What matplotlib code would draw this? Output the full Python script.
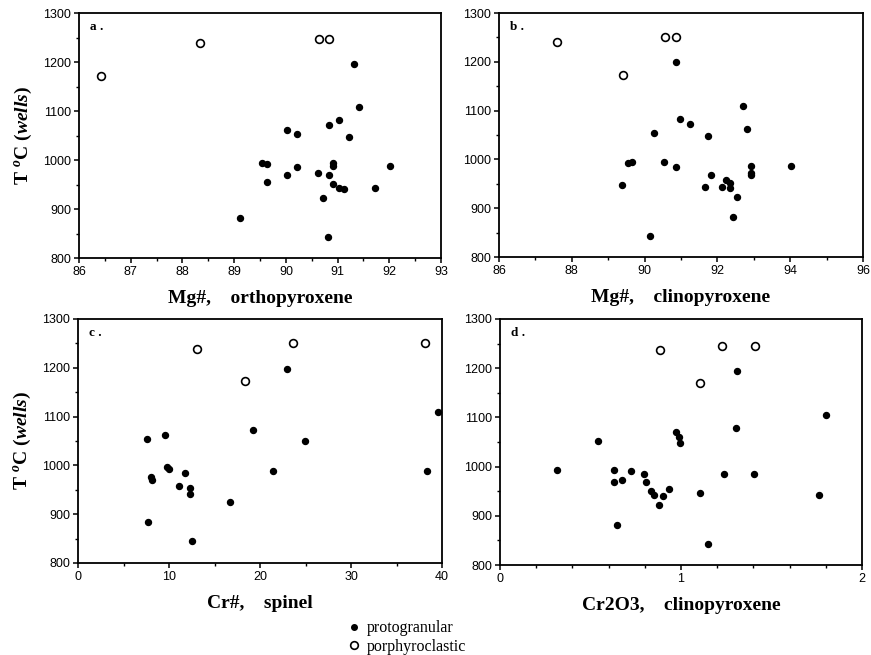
import matplotlib
matplotlib.use('Agg')
import matplotlib.pyplot as plt
from matplotlib.ticker import MultipleLocator
from matplotlib.lines import Line2D

plt.rcParams['mathtext.fontset'] = 'custom'
plt.rcParams['mathtext.rm'] = 'Liberation Serif:bold'
plt.rcParams['mathtext.bf'] = 'Liberation Serif:bold'
plt.rcParams['mathtext.it'] = 'Liberation Serif:bold:italic'

# a. Mg# orthopyroxene
opx_proto_x = [91.32, 91.42, 91.03, 90.83, 90.03, 90.22, 91.22, 89.53, 89.64, 89.64, 90.03, 90.22,
               90.62, 90.83, 90.92, 90.92, 90.92, 91.02, 91.12, 91.72, 92.02, 90.72, 89.12, 90.81]
opx_proto_t = [1197, 1108, 1082, 1072, 1062, 1054, 1048, 995, 993, 956, 969, 985,
               974, 969, 994, 987, 951, 944, 941, 943, 987, 922, 881, 842]
opx_porph_x = [86.42, 88.34, 90.64, 90.84]
opx_porph_t = [1172, 1238, 1247, 1247]

# b. Mg# clinopyroxene
cpx_proto_x = [90.87, 92.71, 92.82, 90.96, 91.24, 90.27, 91.75, 89.54, 89.66, 90.54, 90.86, 89.37,
               91.82, 91.66, 92.13, 92.23, 92.34, 92.35, 92.54, 92.44, 92.92, 92.92, 92.92, 94.02, 90.16]
cpx_proto_t = [1200, 1109, 1062, 1083, 1073, 1055, 1049, 993, 995, 995, 985, 948,
               969, 943, 943, 957, 952, 941, 922, 882, 987, 973, 969, 987, 844]
cpx_porph_x = [87.59, 89.40, 90.56, 90.87]
cpx_porph_t = [1241, 1174, 1251, 1251]

# c. Cr# spinel
sp_proto_x = [23.0, 39.6, 19.2, 24.9, 7.6, 9.6, 9.8, 10.0, 11.8, 21.4, 38.4, 8.0,
              8.1, 11.1, 12.3, 12.25, 16.7, 7.7, 12.5]
sp_proto_t = [1198, 1109, 1073, 1049, 1055, 1063, 996, 993, 985, 988, 988, 976,
              970, 957, 953, 942, 924, 883, 845]
sp_porph_x = [13.1, 18.3, 23.6, 38.1]
sp_porph_t = [1239, 1173, 1250, 1250]

# d. Cr2O3 clinopyroxene
cr_proto_x = [1.307, 1.803, 1.305, 0.544, 0.975, 0.988, 0.995, 0.313, 0.632, 0.632, 0.675, 0.724,
              0.794, 0.807, 0.833, 0.850, 0.876, 0.903, 0.933, 0.649, 1.106, 1.239, 1.403, 1.764, 1.147]
cr_proto_t = [1194, 1104, 1079, 1053, 1070, 1061, 1047, 994, 994, 968, 973, 991,
              984, 968, 950, 942, 922, 940, 955, 882, 947, 985, 985, 942, 843]
cr_porph_x = [0.887, 1.108, 1.228, 1.408]
cr_porph_t = [1237, 1169, 1245, 1245]

panels = [
    ('a .', r'Mg#,    orthopyroxene', opx_proto_x, opx_proto_t, opx_porph_x, opx_porph_t,
     (86, 93), 1, 0.5, [0.0907, 0.606, 0.4157, 0.374], True),
    ('b .', r'Mg#,    clinopyroxene', cpx_proto_x, cpx_proto_t, cpx_porph_x, cpx_porph_t,
     (86, 96), 2, 1, [0.5729, 0.6076, 0.4179, 0.3725], False),
    ('c .', r'Cr#,    spinel', sp_proto_x, sp_proto_t, sp_porph_x, sp_porph_t,
     (0, 40), 10, 5, [0.0896, 0.1405, 0.4179, 0.3725], True),
    ('d .', r'Cr2O3,    clinopyroxene', cr_proto_x, cr_proto_t, cr_porph_x, cr_porph_t,
     (0, 2), 1, 0.2, [0.574, 0.1374, 0.4156, 0.3756], False),
]

fig = plt.figure(figsize=(8.71, 6.55), dpi=100)

for lab, xlab, px, pt, ox, ot, xlim, xmaj, xmin, pos, ylab in panels:
    ax = fig.add_axes(pos)
    ax.plot(px, pt, 'o', color='black', markersize=4.3, clip_on=False)
    ax.plot(ox, ot, 'o', markerfacecolor='white', markeredgecolor='black',
            markersize=5.6, markeredgewidth=1.2, clip_on=False)
    ax.set_xlim(*xlim)
    ax.set_ylim(800, 1300)
    ax.xaxis.set_major_locator(MultipleLocator(xmaj))
    ax.xaxis.set_minor_locator(MultipleLocator(xmin))
    ax.yaxis.set_major_locator(MultipleLocator(100))
    ax.yaxis.set_minor_locator(MultipleLocator(50))
    ax.tick_params(which='major', direction='out', length=3.5, width=1.1,
                   labelsize=9, pad=2)
    ax.tick_params(which='minor', direction='out', length=2, width=1)
    for lbl in ax.get_xticklabels() + ax.get_yticklabels():
        lbl.set_family('Liberation Sans')
    for s in ax.spines.values():
        s.set_linewidth(1.3)
    ax.text(0.03, 0.93, lab, transform=ax.transAxes, fontsize=9.5,
            fontweight='bold', family='Liberation Serif')
    ax.set_xlabel(xlab, fontsize=14, fontweight='bold', family='Liberation Serif',
                  labelpad=9)
    if ylab:
        ax.set_ylabel(r'$\mathrm{T}\ ^{o}\mathrm{C}\ \mathit{(wells)}$', fontsize=14,
                      labelpad=7)

handles = [
    Line2D([], [], marker='o', linestyle='none', color='black', markersize=4),
    Line2D([], [], marker='o', linestyle='none', markerfacecolor='white',
           markeredgecolor='black', markersize=5.5, markeredgewidth=1.2),
]
fig.legend(handles, ['protogranular', 'porphyroclastic'], loc='center',
           bbox_to_anchor=(0.468, 0.027), frameon=False, handlelength=0.6,
           handletextpad=0.5, labelspacing=0.15,
           prop={'family': 'Liberation Serif', 'size': 11.5})

fig.savefig('out.png', dpi=100)
